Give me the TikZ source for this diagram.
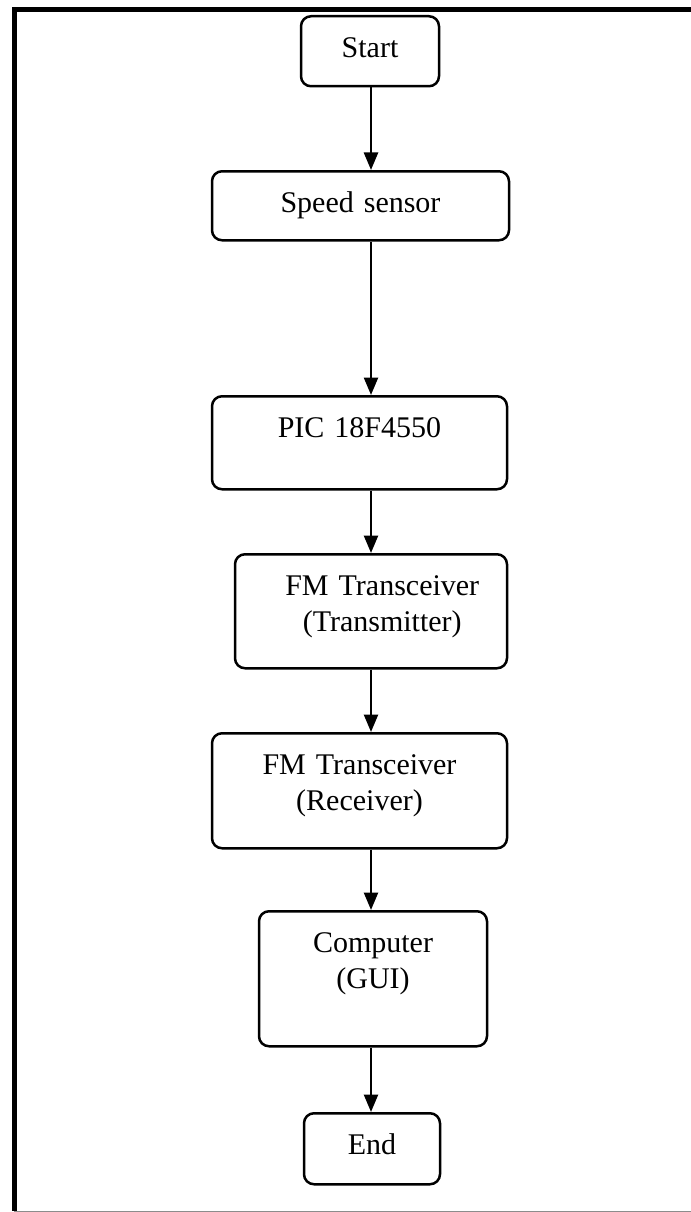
\documentclass[tikz,border=0pt]{standalone}
\usepackage{fontspec}
\setmainfont{Liberation Serif}
\usetikzlibrary{arrows.meta}
\tikzstyle{blk}=[draw, line width=1pt, rounded corners=4pt, anchor=north, align=center,
  inner xsep=0pt, inner ysep=6.4pt, text height=10pt]
\tikzstyle{arr}=[line width=1pt, -{Triangle[length=7pt, width=5.6pt]}]

\begin{document}
\begin{tikzpicture}[x=0.4pt, y=-0.4pt, font=\fontsize{12}{14.5}\selectfont]
    \useasboundingbox (0,0) rectangle (691,1212);
    \node[blk, text width=55.2pt, text depth=5.2pt] (start) at (370,15) {Start};
    \node[blk, text width=118.8pt, text depth=4.8pt] (speed) at (360.5,170) {Speed sensor};
    \node[blk, text width=118pt, text depth=14.4pt] (pic) at (359.5,395) {PIC 18F4550};
    \node[blk, text width=108.8pt, text depth=22.8pt] (tx) at (371,553)
      {\hspace*{9pt}FM Transceiver\\\hspace*{9pt}(Transmitter)};
    \node[blk, text width=118pt, text depth=23.2pt] (rx) at (359.5,732)
      {FM Transceiver\\(Receiver)};
    \node[blk, text width=91.2pt, text depth=31.2pt] (pc) at (373,910)
      {Computer\\(GUI)};
    \node[blk, text width=54.4pt, text depth=5.6pt] (end) at (372,1112) {End};
    \coordinate (spine) at (371,0);
    \foreach \from/\to in {start/speed, speed/pic, pic/tx, tx/rx, rx/pc, pc/end}
      \draw[arr] (\from.south -| spine) -- (\to.north -| spine);

    % frame
    \draw[line width=2pt] (691,10) -- (14,10) -- (14,1211);
    \draw[black!45, line width=.4pt] (14,1211) -- (691,1211);
\end{tikzpicture}
\end{document}
